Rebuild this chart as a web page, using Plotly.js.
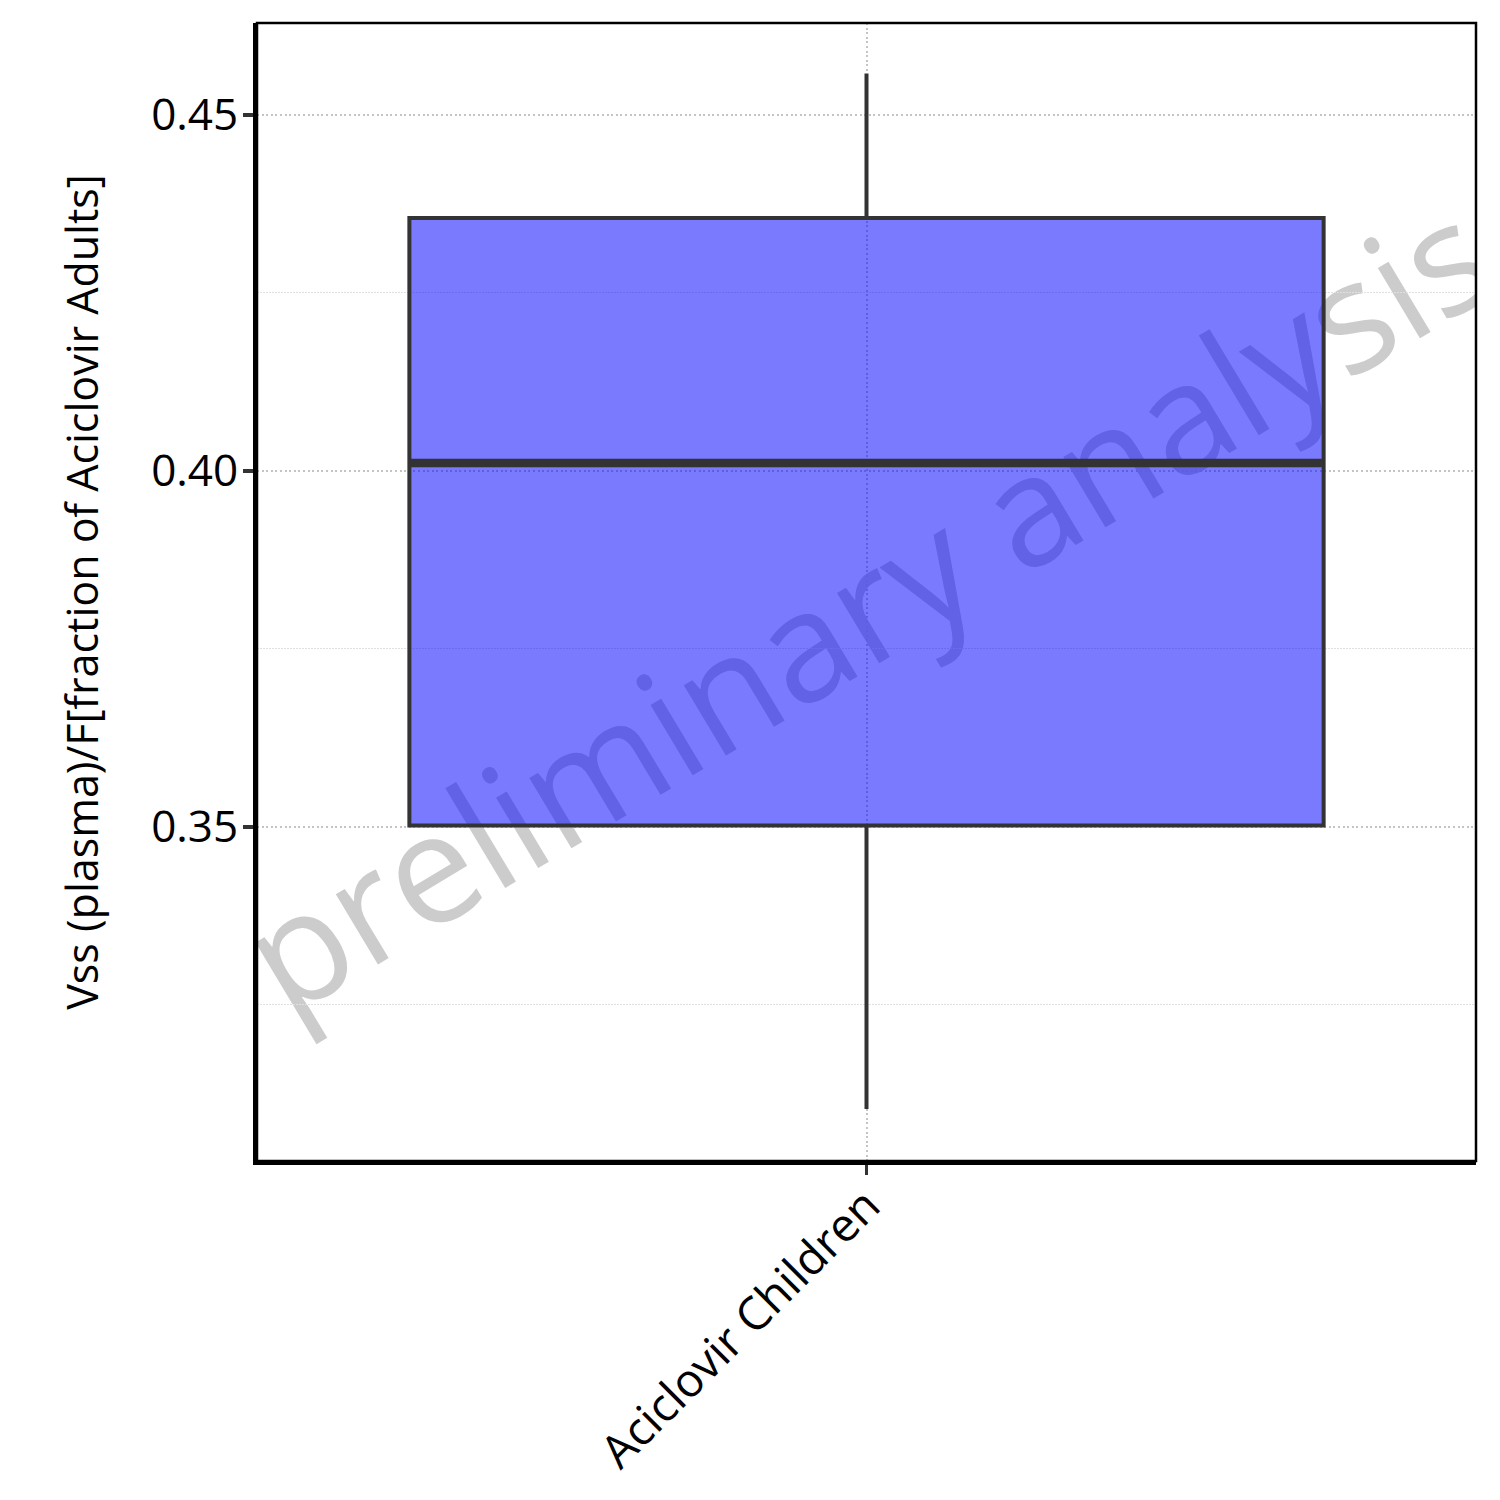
<!DOCTYPE html>
<html>
<head>
<meta charset="utf-8">
<script src="https://cdn.plot.ly/plotly-3.0.1.min.js"></script>
<style>html,body{margin:0;padding:0;background:#fff;}</style>
</head>
<body>
<div id="chart" style="width:1500px;height:1500px;"></div>
<script>
// Data
const categories = ['Aciclovir Children'];
const lowerWhisker = [0.3104];
const q1Values = [0.3502];
const medianValues = [0.4011];
const q3Values = [0.4355];
const upperWhisker = [0.4558];
const yTitle = 'Vss (plasma)/F[fraction of Aciclovir Adults]';
const watermark = 'preliminary analysis';
const yRange = [0.30309, 0.46289];

const FONT = 'Open Sans, Noto Sans, sans-serif';

const boxTrace = {
  type: 'box',
  x: categories,
  q1: q1Values,
  median: medianValues,
  q3: q3Values,
  lowerfence: lowerWhisker,
  upperfence: upperWhisker,
  width: 0.75,
  fillcolor: 'rgba(0,0,255,0.52)',
  line: {color: '#333333', width: 4},
  whiskerwidth: 0,
  boxpoints: false,
  hoverinfo: 'skip',
  showlegend: false
};

// thick median bar, ggplot style
const medianTrace = {
  type: 'box',
  x: categories,
  q1: medianValues,
  median: medianValues,
  q3: medianValues,
  lowerfence: medianValues,
  upperfence: medianValues,
  width: 0.75,
  fillcolor: 'rgba(0,0,0,0)',
  line: {color: '#333333', width: 8.5},
  whiskerwidth: 0,
  boxpoints: false,
  hoverinfo: 'skip',
  showlegend: false
};

const layout = {
  width: 1500,
  height: 1500,
  margin: {l: 257, r: 24, t: 23, b: 339, pad: 0},
  paper_bgcolor: '#ffffff',
  plot_bgcolor: '#ffffff',
  font: {family: FONT, color: '#000000'},
  showlegend: false,
  boxmode: 'overlay',
  boxgap: 0.25,
  xaxis: {
    type: 'category',
    range: [-0.5, 0.5],
    tickangle: -45,
    ticks: 'outside',
    ticklen: 10,
    tickwidth: 3.5,
    tickcolor: '#333333',
    ticklabelstandoff: -15,
    tickfont: {size: 46, color: '#000000', family: FONT},
    showline: true,
    linecolor: '#000000',
    linewidth: 4,
    showgrid: true,
    gridcolor: '#c4c4c4',
    gridwidth: 2,
    griddash: '2px,2.6px',
    zeroline: false,
    fixedrange: true
  },
  yaxis: {
    range: yRange,
    tick0: 0,
    dtick: 0.05,
    tickformat: '.2f',
    ticks: 'outside',
    ticklen: 10,
    tickwidth: 3.5,
    tickcolor: '#333333',
    ticklabelstandoff: -4,
    tickfont: {size: 44, color: '#000000', family: FONT},
    showline: true,
    linecolor: '#000000',
    linewidth: 4,
    showgrid: true,
    gridcolor: '#c4c4c4',
    gridwidth: 2,
    griddash: '2px,2.6px',
    minor: {dtick: 0.025, showgrid: true, gridcolor: '#e0e0e0', gridwidth: 1, griddash: '1.5px,1.5px', ticks: ''},
    zeroline: false,
    title: {text: yTitle, font: {size: 43, color: '#000000', family: FONT}, standoff: 40},
    fixedrange: true
  },
  shapes: [
    {
      type: 'rect', xref: 'x', yref: 'y',
      x0: -0.4967, x1: 0.5033, y0: yRange[0] - 0.0028, y1: yRange[1] - 0.0028,
      line: {width: 0}, fillcolor: 'rgba(0,0,0,0)',
      layer: 'below',
      label: {
        text: watermark,
        textangle: -31,
        textposition: 'middle center',
        font: {size: 153, color: '#cccccc', family: FONT}
      }
    },
    {
      type: 'rect', xref: 'paper', yref: 'paper',
      x0: 0, x1: 1, y0: 0, y1: 1,
      line: {color: '#000000', width: 2.5},
      fillcolor: 'rgba(0,0,0,0)',
      layer: 'above'
    }
  ]
};

Plotly.newPlot('chart', [boxTrace, medianTrace], layout, {staticPlot: true, displayModeBar: false});
</script>
</body>
</html>
